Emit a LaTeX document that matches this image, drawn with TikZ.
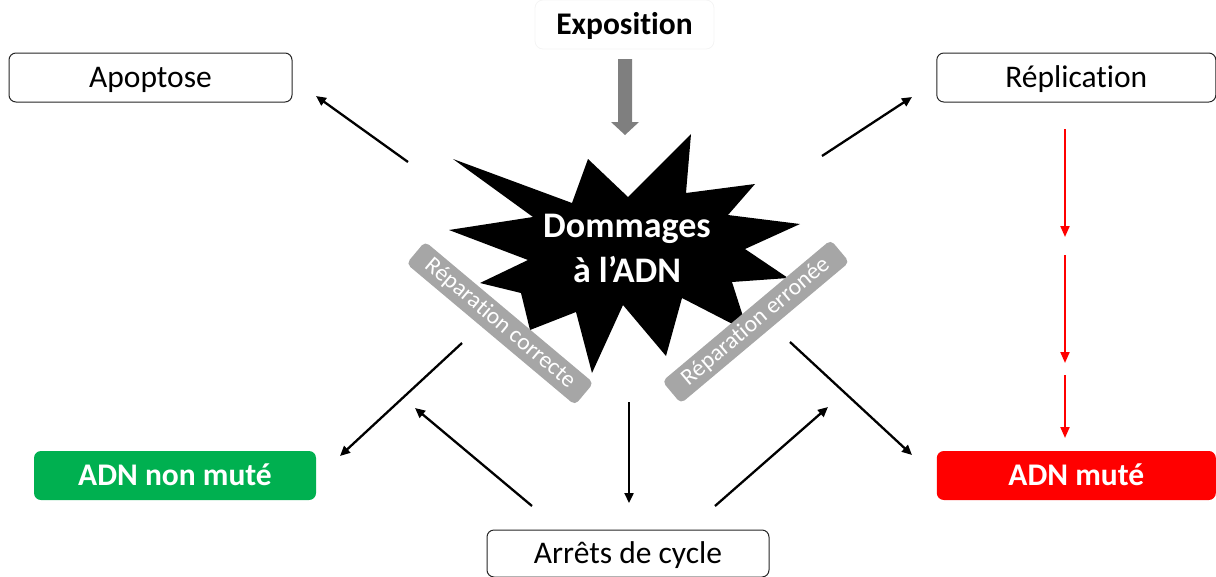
\documentclass[tikz,border=0pt]{standalone}
\usepackage{fontspec}
\setmainfont{Carlito}[Ligatures=NoCommon]
\usetikzlibrary{arrows.meta}
\definecolor{lblgray}{HTML}{A6A6A6}
\definecolor{blkgray}{HTML}{7F7F7F}
\definecolor{okgreen}{HTML}{00B050}
\definecolor{badred}{HTML}{FF0000}
\definecolor{faint}{HTML}{F4F4F4}
\tikzset{
  whitebox/.style={draw=black!85, line width=1pt, rounded corners=7pt, fill=white,
    minimum height=49pt, inner sep=0pt, text height=20pt, text depth=0pt,
    font=\fontsize{31.5}{36}\selectfont},
  colbox/.style={rounded corners=7pt, minimum height=49pt, inner sep=0pt,
    text height=20pt, text depth=0pt,
    text=white, font=\fontsize{31.5}{36}\selectfont\bfseries},
  replabel/.style={fill=lblgray, rounded corners=5pt, text=white, minimum width=220pt,
    minimum height=29pt, inner sep=0pt, font=\fontsize{23.5}{24}\selectfont},
  blackarrow/.style={line width=2.3pt, -{Triangle[length=10pt,width=9pt]}},
  redarrow/.style={draw=badred, line width=2pt, -{Triangle[length=11pt,width=9pt]}},
}
\begin{document}
\begin{tikzpicture}[x=1pt,y=-1pt]
\useasboundingbox (0,0) rectangle (1216,576);
% Exposition
\node[draw=faint, line width=0.8pt, rounded corners=8pt, minimum width=179pt, minimum height=49pt, inner sep=0pt,
  text height=20pt, text depth=0pt,
  font=\fontsize{31.5}{36}\selectfont\bfseries] (expo) at (624.5,24.5) {Exposition};
% gray block arrow
\fill[blkgray] (618,59) -- (632,59) -- (632,122) -- (639,122) -- (625,135) -- (611,122) -- (618,122) -- cycle;
% star
\fill[black] (453,159) -- (572,203) -- (588,159) -- (628,197) -- (691,134) -- (686,193)
  -- (755,184) -- (728,215) -- (800,224) -- (745,249) -- (788,278) -- (732,282)
  -- (748,332) -- (682,298) -- (666,356) -- (623,305) -- (592,373) -- (576,312)
  -- (530,330) -- (521,293) -- (480,283) -- (528,260) -- (449,230) -- (533,217) -- cycle;
\node[text=white, align=center, inner sep=0pt, font=\fontsize{36}{45}\selectfont\bfseries] (dmg) at (627,248) {Dommages\\à l’ADN};
% repair labels
\node[replabel, rotate=-40] (corr) at (500,323.3) {Réparation correcte};
\node[replabel, rotate=40] (err) at (755.8,321.7) {Réparation erronée};
% boxes
\node[whitebox, minimum width=283pt] (apop) at (150.5,77.5) {Apoptose};
\node[whitebox, minimum width=279pt] (repl) at (1076.3,77.5) {Réplication};
\node[colbox, fill=okgreen, minimum width=282pt] (nonmut) at (175,475.5) {ADN non muté};
\node[colbox, fill=badred, minimum width=279pt] (mut) at (1076.3,475.5) {ADN muté};
\node[whitebox, minimum width=282pt, minimum height=47pt] (arret) at (628,553.5) {Arrêts de cycle};
% connector end points
\coordinate (a1s) at (408,162); \coordinate (a1e) at (316,96);
\coordinate (a2s) at (822,156); \coordinate (a2e) at (912,97);
\coordinate (a3s) at (462,343); \coordinate (a3e) at (340,456);
\coordinate (a4s) at (790,342); \coordinate (a4e) at (912,455);
\coordinate (a5s) at (629,402); \coordinate (a5e) at (629,503);
\coordinate (a6s) at (532,506); \coordinate (a6e) at (415,408);
\coordinate (a7s) at (715,506); \coordinate (a7e) at (828,407);
\coordinate (r1s) at (1065,129); \coordinate (r1e) at (1065,237);
\coordinate (r2s) at (1065,255); \coordinate (r2e) at (1065,363);
\coordinate (r3s) at (1065,375); \coordinate (r3e) at (1065,438);
\draw[blackarrow] (a1s) -- (a1e);
\draw[blackarrow] (a2s) -- (a2e);
\draw[blackarrow] (a3s) -- (a3e);
\draw[blackarrow] (a4s) -- (a4e);
\draw[blackarrow] (a5s) -- (a5e);
\draw[blackarrow] (a6s) -- (a6e);
\draw[blackarrow] (a7s) -- (a7e);
\draw[redarrow] (r1s) -- (r1e);
\draw[redarrow] (r2s) -- (r2e);
\draw[redarrow] (r3s) -- (r3e);
\end{tikzpicture}
\end{document}
